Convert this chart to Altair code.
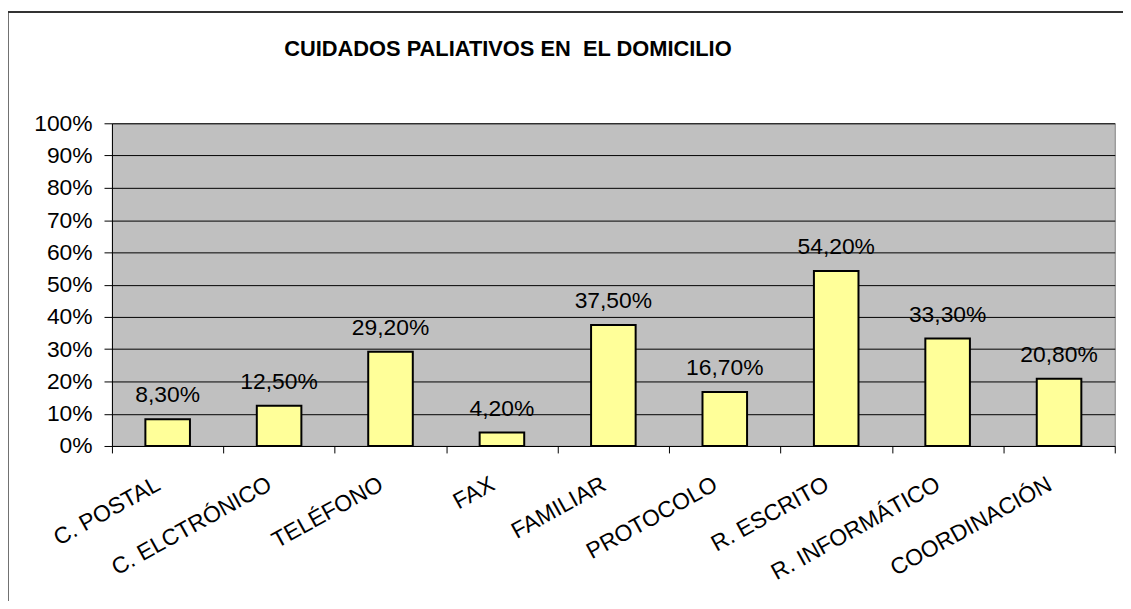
import altair as alt
import pandas as pd

categories = ["C. POSTAL", "C. ELCTRÓNICO", "TELÉFONO", "FAX", "FAMILIAR",
              "PROTOCOLO", "R. ESCRITO", "R. INFORMÁTICO", "COORDINACIÓN"]
values_pct = [8.3, 12.5, 29.2, 4.2, 37.5, 16.7, 54.2, 33.3, 20.8]
y_ticks = [0, 0.1, 0.2, 0.3, 0.4, 0.5, 0.6, 0.7, 0.8, 0.9, 1.0]
title_text = ["CUIDADOS PALIATIVOS EN \u00a0EL DOMICILIO"]

df = pd.DataFrame({
    "cat": categories,
    "val": [v / 100 for v in values_pct],
    "label": [f"{v:.2f}%".replace(".", ",") for v in values_pct],
})

FONT = "Liberation Sans"

x_enc = alt.X("cat:N", sort=categories, title=None,
              scale=alt.Scale(paddingInner=0, paddingOuter=0),
              axis=alt.Axis(labelAngle=-29, labelAlign="right", labelBaseline="top",
                            labelFontSize=23, labelColor="#000000", labelFont=FONT,
                            labelPadding=20, labelOffset=-15, labelLimit=500,
                            tickBand="extent", tickSize=7, tickColor="#000000",
                            domainColor="#000000", domainWidth=1, grid=False,
                            labelOverlap=False))
y_enc = alt.Y("val:Q", title=None,
              scale=alt.Scale(domain=[0, 1], nice=False),
              axis=alt.Axis(values=y_ticks, format=".0%", labelFontSize=23,
                            labelColor="#000000", labelFont=FONT, labelPadding=12,
                            labelOverlap=False,
                            tickSize=8, tickColor="#000000", domainColor="#000000",
                            grid=True, gridColor="#000000", gridWidth=1))

base = alt.Chart(df)

bars = base.mark_bar(width=alt.RelativeBandSize(0.4), fill="#FFFF99",
                     stroke="#000000", strokeWidth=2).encode(x=x_enc, y=y_enc)

labels = base.mark_text(baseline="alphabetic", dy=-17, fontSize=23, font=FONT,
                        color="#000000").encode(x=x_enc, y=y_enc, text="label:N")

title = alt.Chart(pd.DataFrame({"t": title_text})).mark_text(
    font=FONT, fontSize=22, fontWeight="bold", color="#000000",
    align="center", baseline="alphabetic").encode(
    x=alt.value(398.8), y=alt.value(-67.7), text="t:N")

border = alt.Chart(pd.DataFrame({"a": [0]})).mark_rect(
    fillOpacity=0, stroke="#333333", strokeWidth=2).encode(
    x=alt.value(-105), x2=alt.value(1200), y=alt.value(-112), y2=alt.value(700))

chart = alt.layer(bars, labels, title, border).properties(
    width=1010, height=325,
    autosize=alt.AutoSizeParams(type="none"),
    padding={"left": 104.7, "top": 114, "right": 8.3, "bottom": 154},
).configure_view(fill="#C0C0C0", stroke="#808080", strokeWidth=1)

chart.save("out.html", embed_options={"renderer": "svg", "actions": False})
